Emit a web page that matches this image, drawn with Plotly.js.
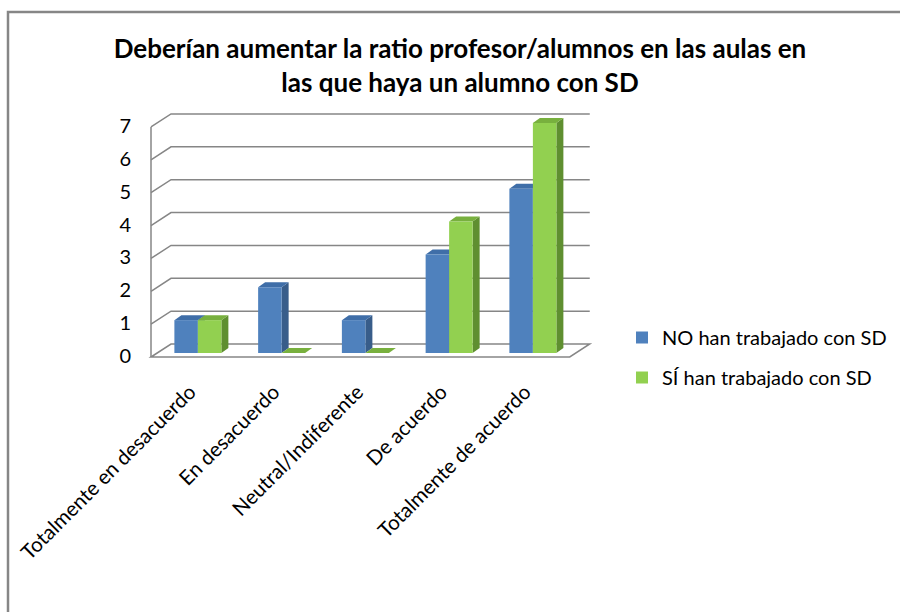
<!DOCTYPE html>
<html>
<head>
<meta charset="utf-8">
<script src="https://cdn.plot.ly/plotly-3.0.1.min.js"></script>
<style>
  html, body { margin: 0; padding: 0; background: #ffffff; }
  #chart { width: 900px; height: 612px; }
</style>
</head>
<body>
<div id="chart"></div>
<script>
// Datos del gráfico
const categorias = ["Totalmente en desacuerdo", "En desacuerdo", "Neutral/Indiferente", "De acuerdo", "Totalmente de acuerdo"];
const serieNo = [1, 2, 1, 3, 5];
const serieSi = [1, 0, 0, 4, 7];
const nombres = ["NO han trabajado con SD", "SÍ han trabajado con SD"];
const ticksY = [0, 1, 2, 3, 4, 5, 6, 7];

const titulo = "Deberían aumentar la ratio profesor/alumnos en las aulas en<br>las que haya un alumno con SD";

// Colores estilo Excel (frente, techo, lateral)
const colores = [
    { frente: "#4f81bd", techo: "#3f6ea8", lado: "#385d8a" },
    { frente: "#92d050", techo: "#78b03e", lado: "#5f8f30" }
];

// Escala en pixeles -> unidades de datos (plano de las barras)
const pxX = 83.75, pxY = 32.86;
const frenteDx = -5 / pxX, frenteDy = -4 / pxY;   // pared frontal
const fondoDx = 15 / pxX, fondoDy = 9 / pxY;      // pared del fondo
const profDx = 7 / pxX, profDy = 5 / pxY;         // profundidad de la barra
const anchoBarra = 23.5 / pxX;
const n = categorias.length;
const xs = categorias.map((c, i) => i);

// Area de trazado en pixeles
const mL = 140, mR = 300, mT = 100, mB = 247;
const anchoP = 900 - mL - mR, altoP = 612 - mT - mB;

const shapes = [];
const gris = "#868686";

// Suelo
shapes.push({
    type: "path", layer: "below",
    path: `M ${-0.5 + frenteDx} ${frenteDy} L ${-0.5 + fondoDx} ${fondoDy} L ${n - 0.5 + fondoDx} ${fondoDy} L ${n - 0.5 + frenteDx} ${frenteDy} Z`,
    line: { color: gris, width: 1.5 }, fillcolor: "rgba(0,0,0,0)"
});

// Líneas de división (pared del fondo)
ticksY.forEach(v => {
    if (v === 0) return;
    shapes.push({
        type: "path", layer: "below",
        path: `M ${-0.5 + frenteDx} ${v + frenteDy} L ${-0.5 + fondoDx} ${v + fondoDy} L ${n - 0.5 + fondoDx} ${v + fondoDy}`,
        line: { color: gris, width: 1.5 }
    });
});

// Eje vertical frontal
shapes.push({
    type: "line", layer: "below",
    x0: -0.5 + frenteDx, x1: -0.5 + frenteDx,
    y0: frenteDy, y1: ticksY[ticksY.length - 1] + frenteDy,
    line: { color: gris, width: 1.5 }
});

// Caras superior y lateral de cada barra
[serieNo, serieSi].forEach((serie, j) => {
    serie.forEach((v, i) => {
        const xL = i - anchoBarra + j * anchoBarra;
        const xR = xL + anchoBarra;
        shapes.push({
            type: "path", layer: "below",
            path: `M ${xR} 0 L ${xR} ${v} L ${xR + profDx} ${v + profDy} L ${xR + profDx} ${profDy} Z`,
            fillcolor: colores[j].lado, line: { width: 0 }
        });
        shapes.push({
            type: "path", layer: "below",
            path: `M ${xL} ${v} L ${xL + profDx} ${v + profDy} L ${xR + profDx} ${v + profDy} L ${xR} ${v} Z`,
            fillcolor: colores[j].techo, line: { width: 0 }
        });
    });
});

// Marco exterior (desde x=8, y=12 hasta fuera de la imagen)
const pxAPaperX = px => (px - mL) / anchoP;
const pxAPaperY = py => (612 - mB - py) / altoP;
shapes.push({
    type: "rect", xref: "paper", yref: "paper", layer: "above",
    x0: pxAPaperX(8), x1: pxAPaperX(920),
    y0: pxAPaperY(640), y1: pxAPaperY(12),
    line: { color: "#868686", width: 2.5 }, fillcolor: "rgba(0,0,0,0)"
});

const trazas = [serieNo, serieSi].map((serie, j) => ({
    type: "bar",
    x: xs,
    y: serie,
    name: nombres[j],
    legendgroup: "g" + j,
    marker: { color: colores[j].frente, line: { width: 0 } },
    hoverinfo: "skip"
}));

const layout = {
    width: 900,
    height: 612,
    paper_bgcolor: "#ffffff",
    plot_bgcolor: "rgba(0,0,0,0)",
    font: { family: "Lato, 'Open Sans', sans-serif", color: "#000000", size: 20 },
    title: {
        text: "<b>" + titulo + "</b>",
        font: { size: 26, color: "#000000" },
        x: 460 / 900, xanchor: "center",
        y: 1 - 58 / 612, yanchor: "middle",
        automargin: false
    },
    margin: { l: mL, r: mR, t: mT, b: mB, autoexpand: false },
    barmode: "group",
    bargap: 1 - 2 * anchoBarra,
    bargroupgap: 0,
    showlegend: true,
    legend: {
        x: 622 / 900, xref: "container", xanchor: "left",
        y: 1 - 318 / 612, yref: "container", yanchor: "top",
        font: { size: 20 },
        itemwidth: 30,
        tracegroupgap: 11,
        bgcolor: "rgba(0,0,0,0)"
    },
    xaxis: {
        range: [-0.5 - 16 / pxX, -0.5 + 444 / pxX],
        tickmode: "array",
        tickvals: xs,
        ticktext: categorias,
        tickangle: -45,
        tickfont: { size: 20.5 },
        showgrid: false, zeroline: false, showline: false,
        ticks: "",
        ticklabelstandoff: 10,
        ticklabelshift: -8,
        automargin: false,
        fixedrange: true
    },
    yaxis: {
        range: [-12 / pxY, 253 / pxY],
        tickmode: "array",
        tickvals: ticksY,
        showgrid: false, zeroline: false, showline: false,
        ticks: "",
        ticklabelshift: 3,
        ticklabelstandoff: 8,
        automargin: false,
        fixedrange: true
    }
};

layout.shapes = shapes;

Plotly.newPlot("chart", trazas, layout, { displayModeBar: false, staticPlot: true });
</script>
</body>
</html>
